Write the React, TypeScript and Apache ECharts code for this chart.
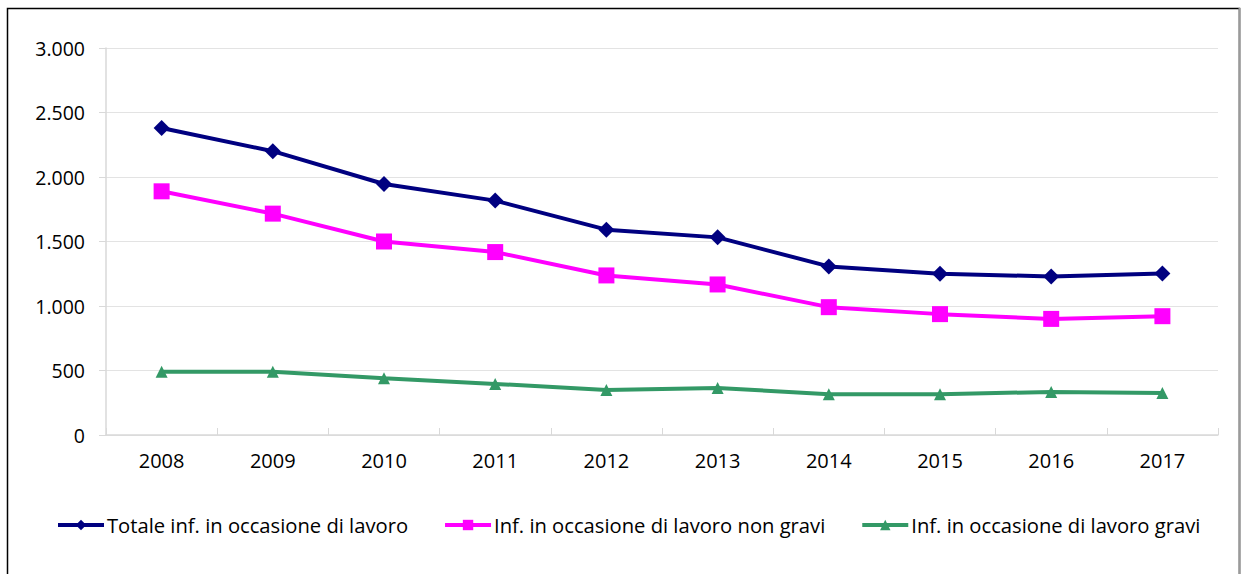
import React, { useEffect, useRef } from "react";
import * as echarts from "echarts";

const years = ["2008", "2009", "2010", "2011", "2012", "2013", "2014", "2015", "2016", "2017"];
const totale = [2380, 2200, 1946, 1817, 1592, 1532, 1307, 1250, 1229, 1252];
const nonGravi = [1889, 1716, 1500, 1418, 1237, 1167, 991, 937, 900, 921];
const gravi = [490, 490, 440, 396, 349, 365, 316, 316, 334, 326];
const seriesNames = [
  "Totale inf. in occasione di lavoro",
  "Inf. in occasione di lavoro non gravi",
  "Inf. in occasione di lavoro gravi",
];

const FONT = "'Open Sans', Lato, sans-serif";

export default function App() {
  const ref = useRef<HTMLDivElement>(null);
  useEffect(() => {
    const chart = echarts.init(ref.current!, null, { renderer: "svg" });
    chart.setOption({
      animation: false,
      backgroundColor: "#ffffff",
      textStyle: { fontFamily: FONT },
      graphic: [
        {
          type: "rect",
          shape: { x: 7.5, y: 8.5, width: 1232, height: 580 },
          style: { fill: "none", stroke: "#000", lineWidth: 1.5 },
          silent: true,
        },
        {
          type: "line",
          shape: { x1: 1239.5, y1: 8, x2: 1239.5, y2: 574 },
          style: { stroke: "#9a9a9a", lineWidth: 2 },
          silent: true,
        },
      ],
      grid: { left: 106, right: 23, top: 48, bottom: 139, containLabel: false },
      legend: {
        left: 56,
        top: 515,
        padding: 0,
        itemWidth: 46,
        itemHeight: 13,
        itemGap: 35,
        lineStyle: { width: 4 },
        textStyle: { fontFamily: FONT, fontSize: 20.2, color: "#000", padding: [0, 0, 0, -2] },
        data: seriesNames,
      },
      xAxis: {
        type: "category",
        data: years,
        boundaryGap: true,
        axisLine: { show: true, lineStyle: { color: "#d9d9d9", width: 1.5 } },
        axisTick: { show: true, inside: true, length: 7, lineStyle: { color: "#d9d9d9" } },
        axisLabel: { color: "#000", fontSize: 20, fontFamily: FONT, margin: 15 },
        splitLine: { show: false },
      },
      yAxis: {
        type: "value",
        min: 0,
        max: 3000,
        interval: 500,
        axisLine: { show: true, lineStyle: { color: "#d9d9d9", width: 1.5 } },
        axisTick: { show: true, length: 7, lineStyle: { color: "#d9d9d9" } },
        axisLabel: {
          color: "#000",
          fontSize: 19.5,
          fontFamily: FONT,
          margin: 21,
          formatter: (v: number) => v.toLocaleString("it-IT").replace(/\s/g, "."),
        },
        splitLine: { show: true, lineStyle: { color: "#e3e3e3", width: 1.2 } },
      },
      series: [
        {
          name: seriesNames[0],
          type: "line",
          data: totale,
          symbol: "diamond",
          symbolSize: 16,
          lineStyle: { color: "#000080", width: 4 },
          itemStyle: { color: "#000080" },
        },
        {
          name: seriesNames[1],
          type: "line",
          data: nonGravi,
          symbol: "rect",
          symbolSize: 16,
          lineStyle: { color: "#ff00ff", width: 4 },
          itemStyle: { color: "#ff00ff" },
        },
        {
          name: seriesNames[2],
          type: "line",
          data: gravi,
          symbol: "triangle",
          symbolSize: 12,
          lineStyle: { color: "#339966", width: 4 },
          itemStyle: { color: "#339966" },
        },
      ],
    });
    return () => chart.dispose();
  }, []);
  return (
    <div
      ref={ref}
      style={{ position: "fixed", left: 0, top: 0, width: 1241, height: 574 }}
    />
  );
}
